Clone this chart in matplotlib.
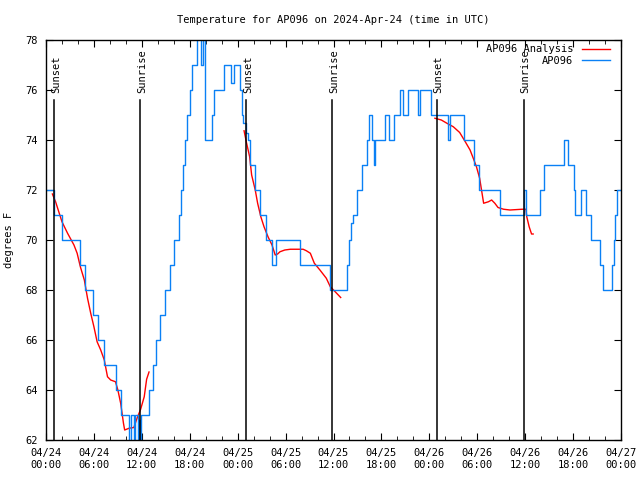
import numpy as np
import matplotlib.pyplot as plt

# hours since 2024-04-24 00:00 UTC
obs_hours = [0.0, 1.0, 2.0, 4.3, 4.85, 5.85, 6.45, 7.25, 8.75, 9.45,
             10.45, 10.7, 11.0, 11.15, 11.5, 11.65, 11.8, 11.95, 12.95, 13.4,
             13.8, 14.3, 14.85, 15.55, 16.0, 16.6, 16.95, 17.2, 17.4, 17.7,
             18.0, 18.3, 18.9, 19.35, 19.6, 19.95, 20.75, 21.0, 22.3, 23.2,
             23.5, 24.25, 24.5, 24.7, 25.0, 25.3, 25.6, 26.15, 26.85, 27.6,
             28.35, 28.75, 31.85, 35.6, 37.75, 37.95, 38.2, 38.45, 38.95, 39.6,
             40.2, 40.45, 40.85, 41.05, 41.25, 42.45, 42.9, 43.55, 44.3, 44.75,
             45.35, 46.55, 46.85, 48.25, 50.3, 50.6, 52.35, 53.6, 54.2, 56.85,
             59.9, 60.1, 61.85, 62.3, 64.9, 65.4, 66.1, 66.3, 67.0, 67.6,
             68.3, 69.4, 69.8, 70.9, 71.1, 71.3, 71.5, 72.0]
obs_temps = [72, 71, 70, 69, 68, 67, 66, 65, 64, 63,
             61.5, 63, 61.5, 63, 61.5, 62.8, 61.5, 63, 64, 65,
             66, 67, 68, 69, 70, 71, 72, 73, 74, 75,
             76, 77, 79, 77, 79, 74, 75, 76, 77, 76.3,
             77, 76, 75, 74.7, 74.3, 74, 73, 72, 71, 70,
             69, 70, 69, 68, 69, 70, 70.7, 71, 72, 73,
             74, 75, 74, 73, 74, 75, 74, 75, 76, 75,
             76, 75, 76, 75, 74, 75, 74, 73, 72, 71,
             72, 71, 72, 73, 74, 73, 72, 71, 72, 71,
             70, 69, 68, 69, 70, 71, 72, 72]

ana1_hours = [0.8, 1.2, 1.6, 2.0, 2.7, 3.5, 3.9, 4.3, 4.8, 5.2, 5.6, 6.0, 6.4, 6.85, 7.3,
              7.7, 8.1, 8.7, 9.0, 9.35, 9.7, 9.85, 10.4, 11.0, 11.4, 11.85, 12.3, 12.6, 12.9]
ana1_temps = [71.84, 71.53, 71.13, 70.73, 70.27, 69.8, 69.47, 68.93, 68.4, 67.67, 67.07, 66.53,
              65.93, 65.6, 65.2, 64.53, 64.4, 64.33, 64.0, 63.47, 62.67, 62.4, 62.47, 62.5,
              62.87, 63.23, 63.73, 64.43, 64.72]
ana2_hours = [24.8, 25.1, 25.5, 25.75, 26.2, 26.5, 26.9, 27.3, 27.8, 28.3, 28.7, 29.0, 29.3,
              29.9, 30.6, 32.2, 32.6, 33.1, 33.6, 34.3, 35.1, 35.6, 36.0, 36.9]
ana2_temps = [74.37, 73.9, 73.33, 72.6, 72.0, 71.47, 70.93, 70.53, 70.13, 69.8, 69.4, 69.44,
              69.53, 69.6, 69.63, 69.63, 69.57, 69.47, 69.07, 68.8, 68.47, 68.13, 68.0, 67.7]
ana3_hours = [48.7, 49.5, 50.2, 51.0, 51.8, 52.5, 53.1, 53.5, 53.9, 54.3, 54.6, 54.8, 55.4,
              55.8, 56.2, 56.6, 57.3, 58.1, 59.6, 60.1, 60.2, 60.5, 60.8, 61.0]
ana3_temps = [74.87, 74.8, 74.67, 74.53, 74.3, 73.93, 73.6, 73.27, 72.93, 72.47, 71.87, 71.47,
              71.53, 71.6, 71.47, 71.3, 71.23, 71.2, 71.23, 71.23, 70.93, 70.53, 70.24, 70.24]

sunset_hours = [1.05, 25.07, 48.97]
sunrise_hours = [11.8, 35.83, 59.8]

xtick_hours = [0, 6, 12, 18, 24, 30, 36, 42, 48, 54, 60, 66, 72]
xtick_labels = ["04/24\n00:00", "04/24\n06:00", "04/24\n12:00", "04/24\n18:00",
                "04/25\n00:00", "04/25\n06:00", "04/25\n12:00", "04/25\n18:00",
                "04/26\n00:00", "04/26\n06:00", "04/26\n12:00", "04/26\n18:00",
                "04/27\n00:00"]

font = "DejaVu Sans Mono"
fs = 7.5
plt.rcParams['font.family'] = font

fig = plt.figure(figsize=(6.4, 4.8), dpi=100)
ax = fig.add_axes([46 / 640, 40 / 480, 575 / 640, 400 / 480])

for i, (h, t) in enumerate([(ana1_hours, ana1_temps), (ana2_hours, ana2_temps),
                            (ana3_hours, ana3_temps)]):
    ax.plot(h, t, color='#ff0000', lw=1.0, label="AP096 Analysis" if i == 0 else None)
ax.plot(obs_hours, obs_temps, color='#0a80f5', lw=1.0, drawstyle='steps-post', label="AP096")

line_top = 75.6
for hrs, name in [(sunset_hours, "Sunset"), (sunrise_hours, "Sunrise")]:
    for h in hrs:
        ax.plot([h, h], [62, line_top], color='black', lw=1.1, zorder=3)
        ax.annotate(name, (h, line_top), xytext=(1.2, 5), textcoords='offset points',
                    rotation=90, ha='center', va='bottom', fontsize=fs)

ax.set_xlim(0, 72)
ax.set_ylim(62, 78)
ax.set_xticks(xtick_hours)
ax.set_xticklabels(xtick_labels)
ax.set_xticks(np.arange(0, 73, 2), minor=True)
ax.set_yticks(np.arange(62, 79, 2))
ax.tick_params(axis='both', which='both', direction='in', top=True, right=True,
               labelsize=fs, pad=6)
ax.tick_params(which='major', length=5)
ax.tick_params(which='minor', length=3)
for s in ax.spines.values():
    s.set_linewidth(1.0)

ax.set_ylabel("degrees F", fontsize=fs, labelpad=8)
ax.set_title("Temperature for AP096 on 2024-Apr-24 (time in UTC)", fontsize=fs, pad=12)

ax.legend(loc='upper right', bbox_to_anchor=(0.988, 1.0), frameon=False,
          markerfirst=False, fontsize=fs, handlelength=2.7, handletextpad=0.8,
          labelspacing=0.15, borderaxespad=0.0)

fig.savefig("out.png", dpi=100)
